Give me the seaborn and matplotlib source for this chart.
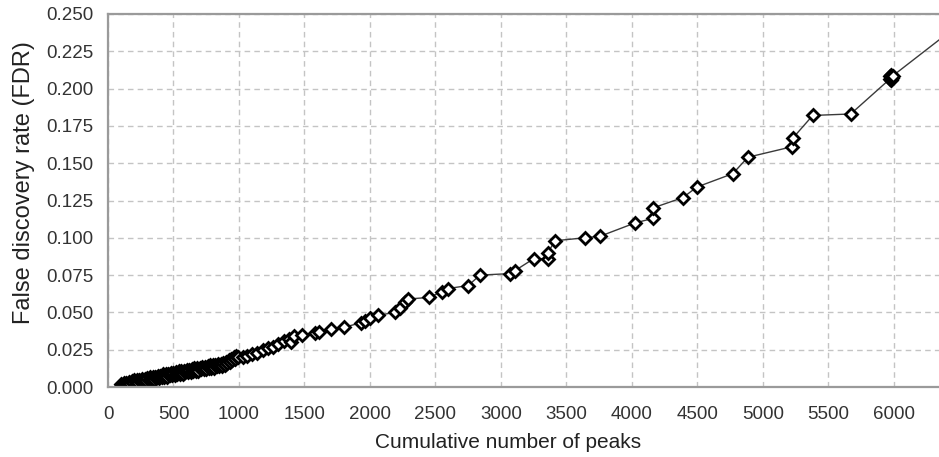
import matplotlib
matplotlib.use("Agg")
import matplotlib.pyplot as plt
import seaborn as sns
import pandas as pd

# Cumulative number of peaks (x) and false discovery rate (y)
peaks = [90, 110, 130, 150, 170, 190, 210, 230, 250, 270, 290, 310, 330, 350,
         370, 390, 410, 430, 450, 470, 490, 510, 530, 550, 570, 590, 610, 630,
         650, 670, 690, 710, 730, 750, 770, 790, 810, 830, 850, 870, 890, 910,
         930, 950, 970, 990, 1030, 1060, 1100, 1140, 1180, 1220, 1260, 1300,
         1340, 1380, 1400, 1420, 1480, 1580, 1610, 1700, 1800, 1930, 1965,
         2000, 2060, 2190, 2230, 2267, 2290, 2450, 2550, 2595, 2750, 2840,
         3070, 3107, 3250, 3360, 3360, 3410, 3640, 3755, 4025, 4160, 4160,
         4390, 4495, 4770, 4885, 5220, 5230, 5380, 5670, 5970, 5978, 5988,
         5972, 5979, 5990, 6600]
fdr = [0.000, 0.001, 0.001, 0.002, 0.002, 0.003, 0.002, 0.003, 0.004, 0.004,
       0.004, 0.005, 0.005, 0.005, 0.006, 0.006, 0.007, 0.007, 0.007, 0.008,
       0.008, 0.008, 0.009, 0.009, 0.009, 0.010, 0.010, 0.010, 0.011, 0.011,
       0.011, 0.012, 0.012, 0.012, 0.013, 0.013, 0.013, 0.014, 0.014, 0.014,
       0.015, 0.016, 0.017, 0.018, 0.019, 0.020, 0.020, 0.021, 0.022, 0.023,
       0.025, 0.026, 0.027, 0.029, 0.031, 0.032, 0.030, 0.034, 0.035, 0.036,
       0.037, 0.039, 0.040, 0.043, 0.044, 0.046, 0.048, 0.050, 0.053, 0.057,
       0.059, 0.060, 0.064, 0.066, 0.068, 0.075, 0.076, 0.078, 0.086, 0.086,
       0.090, 0.098, 0.100, 0.101, 0.110, 0.113, 0.120, 0.127, 0.134, 0.143,
       0.154, 0.161, 0.167, 0.182, 0.183, 0.2065, 0.2058, 0.2068, 0.2082,
       0.2090, 0.2085, 0.250]

# Additional low-count peaks in the dense start of the curve
peaks_dense = [100, 120, 140, 160, 180, 200, 220, 240, 260, 280, 300, 320,
               340, 360, 380, 400, 420, 440, 460, 480, 500, 520, 540, 560,
               580, 600, 620, 640, 660, 680, 700, 720, 740, 760, 780, 800,
               820, 840, 860, 880, 900, 920, 940, 960, 980]
fdr_dense = [0.002, 0.0025, 0.003, 0.0035, 0.004, 0.0045, 0.0045, 0.005,
             0.0055, 0.0055, 0.006, 0.0065, 0.0065, 0.007, 0.0075, 0.0075,
             0.0085, 0.0085, 0.009, 0.0095, 0.0095, 0.010, 0.0105, 0.0105,
             0.011, 0.0115, 0.0115, 0.012, 0.0125, 0.0125, 0.013, 0.0135,
             0.0135, 0.014, 0.0145, 0.0145, 0.015, 0.0155, 0.0155, 0.016,
             0.017, 0.018, 0.019, 0.020, 0.021]

x_ticks = [0, 500, 1000, 1500, 2000, 2500, 3000, 3500, 4000, 4500, 5000, 5500, 6000]
y_ticks = [0.000, 0.025, 0.050, 0.075, 0.100, 0.125, 0.150, 0.175, 0.200, 0.225, 0.250]

df = pd.concat([pd.DataFrame({"peaks": peaks, "fdr": fdr}),
                pd.DataFrame({"peaks": peaks_dense, "fdr": fdr_dense})],
               ignore_index=True)
df = df.iloc[df["peaks"].rank(method="first").argsort()]  # stable order
df = df.reset_index(drop=True)

sns.set_style("white")
plt.rcParams["font.family"] = ["Liberation Sans", "DejaVu Sans"]

fig = plt.figure(figsize=(9.39, 4.57), dpi=100)
ax = fig.add_axes([108 / 939, 1 - 387 / 457, 1 - 108 / 939, (387 - 14) / 457])

sns.lineplot(data=df, x="peaks", y="fdr", ax=ax, sort=False, estimator=None,
             color="#3a3a3a", linewidth=1.0, marker="D", markersize=6.3,
             markerfacecolor="white", markeredgecolor="black",
             markeredgewidth=2.0, clip_on=True)

ax.set_xlim(0, 6344)
ax.set_ylim(0, 0.25)
ax.set_xticks(x_ticks)
ax.set_xticklabels([str(t) for t in x_ticks])
ax.set_yticks(y_ticks)
ax.set_yticklabels([f"{t:.3f}" for t in y_ticks])

ax.grid(True, linestyle=(0, (4, 3)), color="#c4c4c4", linewidth=1.0)
ax.set_axisbelow(True)

for side in ["left", "top", "bottom"]:
    ax.spines[side].set_color("#9a9a9a")
    ax.spines[side].set_linewidth(1.6)
ax.spines["right"].set_visible(False)

ax.tick_params(axis="both", direction="inout", length=6, width=1.2,
               color="#9a9a9a", labelsize=13.5, labelcolor="#333333")
ax.tick_params(axis="y", pad=7.5)
ax.tick_params(axis="x", pad=11)

ax.set_xlabel("Cumulative number of peaks", fontsize=15, color="#222222")
ax.set_ylabel("False discovery rate (FDR)", fontsize=17, color="#222222")
ax.xaxis.set_label_coords(0.481, -0.122)
ax.yaxis.set_label_coords(-0.088, 0.547)

fig.savefig("out.png", dpi=100)
